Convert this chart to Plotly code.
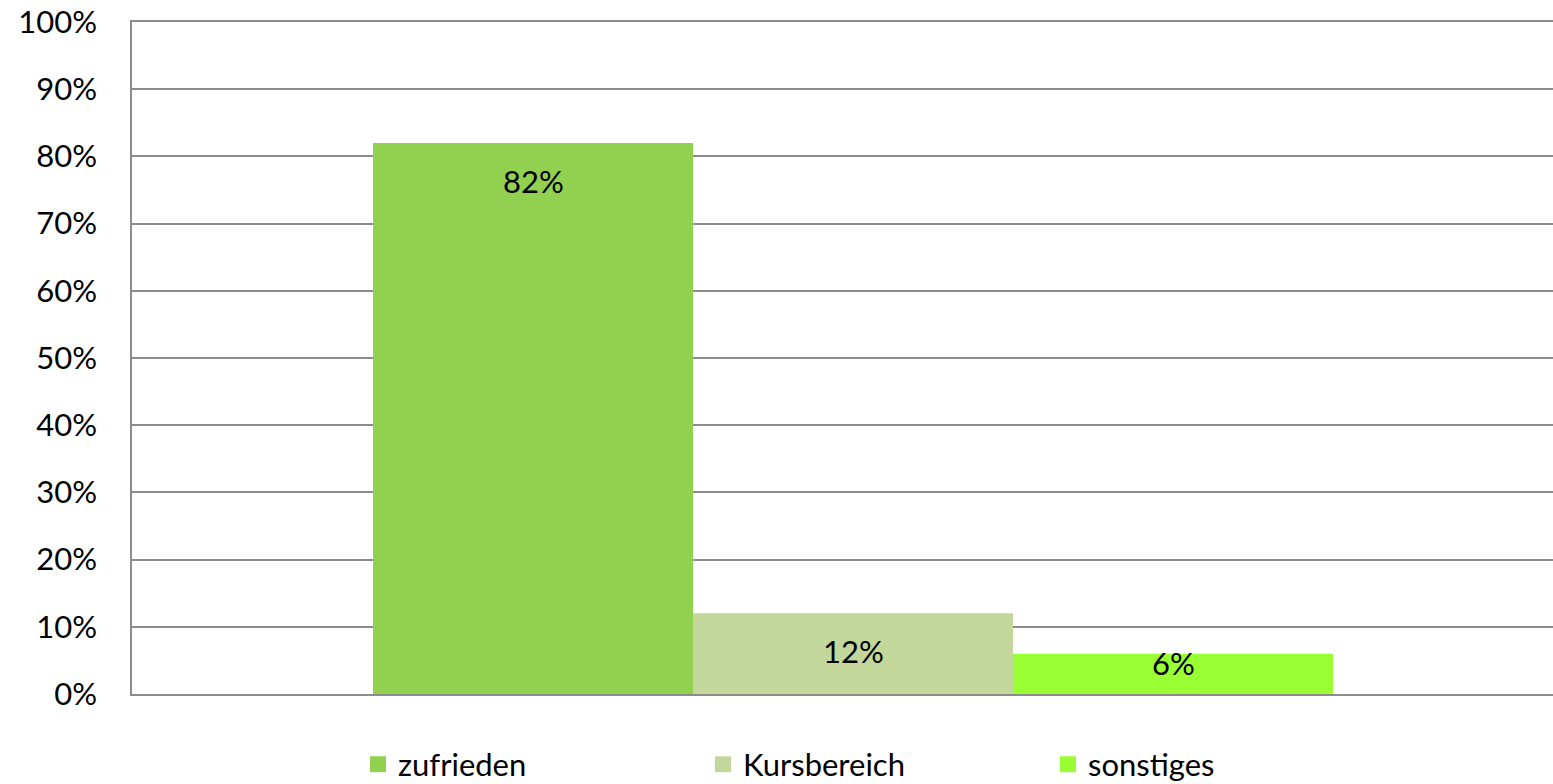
import plotly.graph_objects as go

categories = ["zufrieden", "Kursbereich", "sonstiges"]
values = [82, 12, 6]
labels = ["82%", "12%", "6%"]
colors = ["#92D050", "#C4D79B", "#99FF33"]
tick_vals = [0, 10, 20, 30, 40, 50, 60, 70, 80, 90, 100]
tick_text = ["0%", "10%", "20%", "30%", "40%", "50%", "60%", "70%", "80%", "90%", "100%"]

FONT = "Lato"
FS = 31
W, H = 1553, 784
ML, MR, MT, MB = 132, 0, 22, 90
plot_h = H - MT - MB
px_per_unit = plot_h / 100.0
BARGAP = 0.2
bar_w = (1 - BARGAP) / len(categories)

fig = go.Figure()
for name, v, c in zip(categories, values, colors):
    fig.add_trace(go.Bar(
        x=[0], y=[v], name=name, marker=dict(color=c, line=dict(width=0)),
        showlegend=False, hoverinfo="name+y",
    ))
for name, c in zip(categories, colors):
    fig.add_trace(go.Scatter(
        x=[None], y=[None], mode="markers", name=name,
        marker=dict(symbol="square", size=16, color=c),
    ))

# data labels: inside end, kept above the axis
n = len(categories)
for i, (v, lab) in enumerate(zip(values, labels)):
    xc = (i - (n - 1) / 2) * bar_w
    shift = -min(38, v * px_per_unit - 31)
    fig.add_annotation(x=xc, y=v, text=lab, showarrow=False, yanchor="middle",
                       yshift=shift, font=dict(family=FONT, size=FS, color="black"))

fig.update_layout(
    width=W, height=H,
    margin=dict(l=ML, r=MR, t=MT, b=MB, autoexpand=False),
    paper_bgcolor="white", plot_bgcolor="white",
    barmode="group", bargap=BARGAP, bargroupgap=0,
    font=dict(family=FONT, size=FS, color="black"),
    showlegend=True,
    legend=dict(orientation="h", x=(358 - ML) / (W - ML - MR), xanchor="left",
                y=-0.105, yanchor="middle", entrywidth=300, entrywidthmode="pixels",
                font=dict(family=FONT, size=FS, color="black"),
                bgcolor="rgba(0,0,0,0)"),
)
fig.update_xaxes(range=[-721 / 1200, 700 / 1200], showticklabels=False, showgrid=False,
                 zeroline=False, showline=True, mirror=True, linecolor="#8c8c8c",
                 linewidth=1.5, fixedrange=True, automargin=False)
fig.update_yaxes(range=[0, 100], tickvals=tick_vals, ticktext=tick_text,
                 showgrid=True, gridcolor="#8c8c8c", gridwidth=1.5,
                 zeroline=False, showline=True, linecolor="#8c8c8c", linewidth=1.5,
                 ticks="", ticklabelstandoff=27, automargin=False,
                 tickfont=dict(family=FONT, size=FS, color="black"))

fig.write_html("out.html", config={"displayModeBar": False},
               post_script="document.body.style.margin='0';document.body.style.overflow='hidden';")
